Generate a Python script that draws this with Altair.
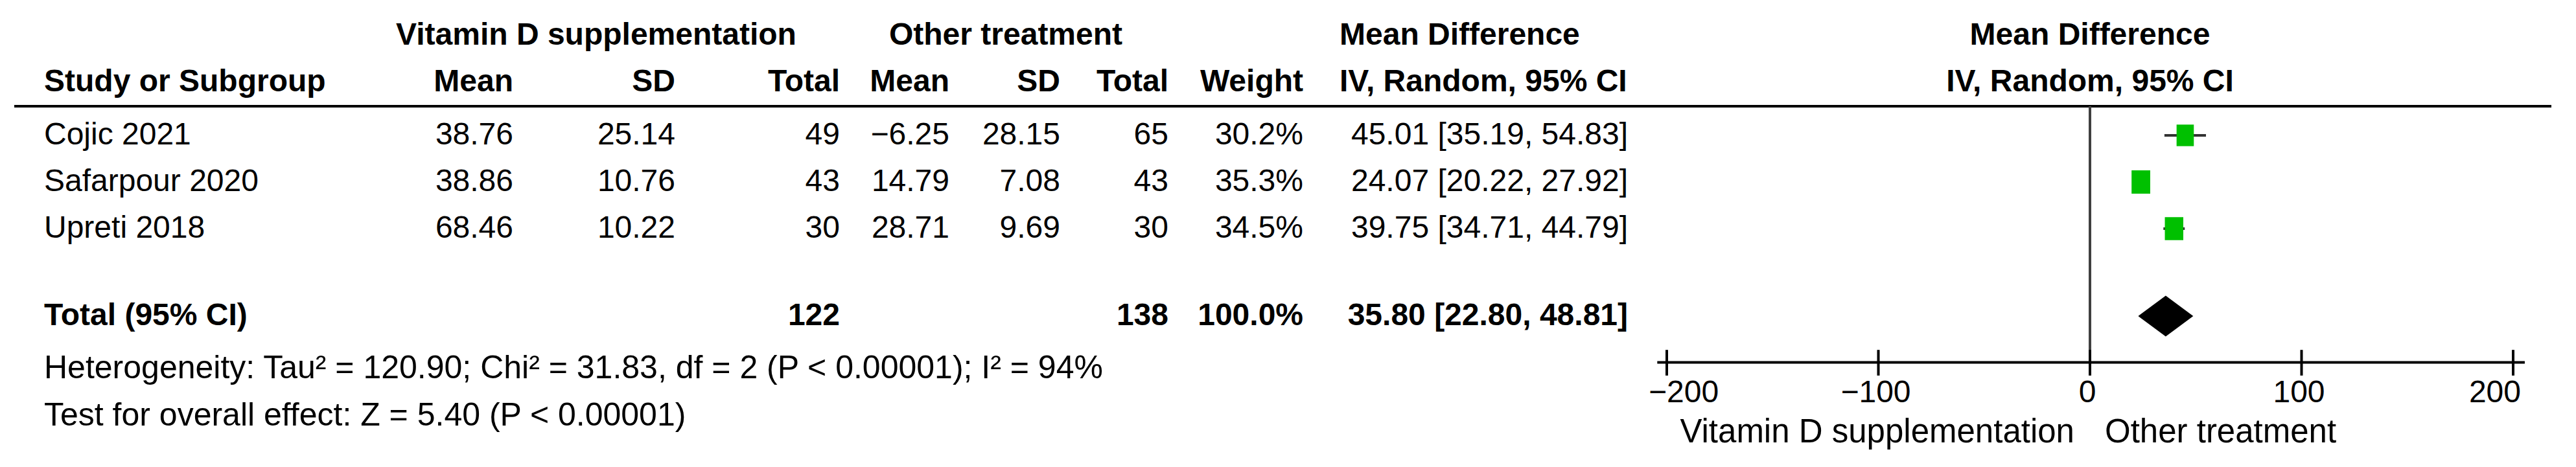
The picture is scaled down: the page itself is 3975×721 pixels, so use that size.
import altair as alt
import pandas as pd

# ---------------- data ----------------
studies = ["Cojic 2021", "Safarpour 2020", "Upreti 2018"]
vd_mean = ["38.76", "38.86", "68.46"]
vd_sd = ["25.14", "10.76", "10.22"]
vd_total = [49, 43, 30]
ot_mean = ["\u22126.25", "14.79", "28.71"]
ot_sd = ["28.15", "7.08", "9.69"]
ot_total = [65, 43, 30]
weight = [30.2, 35.3, 34.5]
md = [45.01, 24.07, 39.75]
ci_lo = [35.19, 20.22, 34.71]
ci_hi = [54.83, 27.92, 44.79]

total_label = "Total (95% CI)"
total_vd = 122
total_ot = 138
total_weight = 100.0
pooled_md = 35.80
pooled_lo = 22.80
pooled_hi = 48.81

heterogeneity = "Heterogeneity: Tau\u00b2 = 120.90; Chi\u00b2 = 31.83, df = 2 (P < 0.00001); I\u00b2 = 94%"
overall_effect = "Test for overall effect: Z = 5.40 (P < 0.00001)"

group_headers = ["Vitamin D supplementation", "Other treatment", "Mean Difference"]
col_headers = ["Study or Subgroup", "Mean", "SD", "Total", "Mean", "SD", "Total", "Weight",
               "IV, Random, 95% CI"]
plot_headers = ["Mean Difference", "IV, Random, 95% CI"]

tick_values = [-200, -100, 0, 100, 200]
tick_labels = ["\u2212200", "\u2212100", "0", "100", "200"]
favours = ["Vitamin D supplementation", "Other treatment"]

# ---------------- layout (styles / positions) ----------------
FONT = "Liberation Sans"
FS = 48
FS_FOOT = 50
FS_FAV = 51
GREEN = "#00c000"

ROW_H1, ROW_H2, ROW_LINE = -2.139, -1.139, -0.625
ROW_TOTAL, ROW_HET, ROW_TEST = 3.875, 5.0, 6.014
ROW_AXIS, ROW_TICK_TOP, ROW_TICK_BOT = 4.868, 4.6, 5.15
ROW_TICKLAB, ROW_FAV = 5.53, 6.375
DIAMOND_HALF = 0.4375

X_NAME = 60
X_VD_MEAN, X_VD_SD, X_VD_TOT = 784, 1034, 1288
X_OT_MEAN, X_OT_SD, X_OT_TOT = 1457, 1628, 1795
X_WEIGHT, X_CI_RIGHT, X_CI_LEFT = 2003, 2504, 2059
X_G1, X_G2 = 912, 1544
TABLE_LINE = (14, 3929)

yscale = alt.Scale(domain=[-3, 7], range=[-15, 705])
xscale = alt.Scale(domain=[-200, 200], range=[2564, 3870])
AXIS_EXTENT = [-204.5, 205.5]


def text_layer(df, field, xpos, align, bold=False, row="row", size=FS):
    return alt.Chart(df).mark_text(
        align=align, baseline="middle", font=FONT, fontSize=size,
        fontWeight="bold" if bold else "normal", color="black"
    ).encode(
        x=alt.value(xpos),
        y=alt.Y(f"{row}:Q", scale=yscale, axis=None),
        text=alt.Text(f"{field}:N"),
    )


# study table
rows = pd.DataFrame({
    "row": list(range(len(studies))),
    "study": studies,
    "vd_mean": vd_mean,
    "vd_sd": vd_sd,
    "vd_total": [str(v) for v in vd_total],
    "ot_mean": ot_mean,
    "ot_sd": ot_sd,
    "ot_total": [str(v) for v in ot_total],
    "weight": [f"{w:.1f}%" for w in weight],
    "ci": [f"{m:.2f} [{l:.2f}, {h:.2f}]" for m, l, h in zip(md, ci_lo, ci_hi)],
    "md": md, "lo": ci_lo, "hi": ci_hi,
    "sq": [w * 36.7 for w in weight],
})

total = pd.DataFrame({
    "row": [ROW_TOTAL],
    "label": [total_label],
    "vd_total": [str(total_vd)],
    "ot_total": [str(total_ot)],
    "weight": [f"{total_weight:.1f}%"],
    "ci": [f"{pooled_md:.2f} [{pooled_lo:.2f}, {pooled_hi:.2f}]"],
})

head1 = pd.DataFrame({"row": [ROW_H1], "g1": [group_headers[0]], "g2": [group_headers[1]],
                      "g3": [group_headers[2]]})
head2 = pd.DataFrame({"row": [ROW_H2], **{f"c{i}": [h] for i, h in enumerate(col_headers)}})
foot = pd.DataFrame({"row": [ROW_HET, ROW_TEST], "t": [heterogeneity, overall_effect]})

layers = []
# headers
layers += [
    text_layer(head1, "g1", X_G1, "center", True),
    text_layer(head1, "g2", X_G2, "center", True),
    text_layer(head1, "g3", X_CI_LEFT, "left", True),
    text_layer(head2, "c0", X_NAME, "left", True),
    text_layer(head2, "c1", X_VD_MEAN, "right", True),
    text_layer(head2, "c2", X_VD_SD, "right", True),
    text_layer(head2, "c3", X_VD_TOT, "right", True),
    text_layer(head2, "c4", X_OT_MEAN, "right", True),
    text_layer(head2, "c5", X_OT_SD, "right", True),
    text_layer(head2, "c6", X_OT_TOT, "right", True),
    text_layer(head2, "c7", X_WEIGHT, "right", True),
    text_layer(head2, "c8", X_CI_LEFT, "left", True),
]
# body
layers += [
    text_layer(rows, "study", X_NAME, "left"),
    text_layer(rows, "vd_mean", X_VD_MEAN, "right"),
    text_layer(rows, "vd_sd", X_VD_SD, "right"),
    text_layer(rows, "vd_total", X_VD_TOT, "right"),
    text_layer(rows, "ot_mean", X_OT_MEAN, "right"),
    text_layer(rows, "ot_sd", X_OT_SD, "right"),
    text_layer(rows, "ot_total", X_OT_TOT, "right"),
    text_layer(rows, "weight", X_WEIGHT, "right"),
    text_layer(rows, "ci", X_CI_RIGHT, "right"),
]
# total
layers += [
    text_layer(total, "label", X_NAME, "left", True),
    text_layer(total, "vd_total", X_VD_TOT, "right", True),
    text_layer(total, "ot_total", X_OT_TOT, "right", True),
    text_layer(total, "weight", X_WEIGHT, "right", True),
    text_layer(total, "ci", X_CI_RIGHT, "right", True),
]
# footnotes
layers.append(text_layer(foot, "t", X_NAME, "left", size=FS_FOOT))

# header rule across the table
hline = pd.DataFrame({"row": [ROW_LINE]})
layers.append(
    alt.Chart(hline).mark_rule(color="black", strokeWidth=4).encode(
        x=alt.value(TABLE_LINE[0]), x2=alt.value(TABLE_LINE[1]),
        y=alt.Y("row:Q", scale=yscale, axis=None))
)

# zero line
zero = pd.DataFrame({"x": [0], "r1": [ROW_LINE], "r2": [ROW_AXIS]})
layers.append(
    alt.Chart(zero).mark_rule(color="#404040", strokeWidth=4).encode(
        x=alt.X("x:Q", scale=xscale, axis=None),
        y=alt.Y("r1:Q", scale=yscale, axis=None), y2="r2:Q")
)

# axis line
axis_df = pd.DataFrame({"x": [AXIS_EXTENT[0]], "x2": [AXIS_EXTENT[1]], "row": [ROW_AXIS]})
layers.append(
    alt.Chart(axis_df).mark_rule(color="black", strokeWidth=4).encode(
        x=alt.X("x:Q", scale=xscale, axis=None), x2="x2:Q",
        y=alt.Y("row:Q", scale=yscale, axis=None))
)
ticks = pd.DataFrame({"x": tick_values, "lab": tick_labels,
                      "r1": [ROW_TICK_TOP] * 5, "r2": [ROW_TICK_BOT] * 5,
                      "rl": [ROW_TICKLAB] * 5})
layers.append(
    alt.Chart(ticks).mark_rule(color="black", strokeWidth=4).encode(
        x=alt.X("x:Q", scale=xscale, axis=None),
        y=alt.Y("r1:Q", scale=yscale, axis=None), y2="r2:Q")
)


def tick_text(sub, align, dx):
    return alt.Chart(sub).mark_text(align=align, baseline="middle", font=FONT, fontSize=FS,
                                    color="black", dx=dx).encode(
        x=alt.X("x:Q", scale=xscale, axis=None),
        y=alt.Y("rl:Q", scale=yscale, axis=None),
        text="lab:N")


layers.append(tick_text(ticks.iloc[[0]], "left", -28))
layers.append(tick_text(ticks.iloc[1:4], "center", -4))
layers.append(tick_text(ticks.iloc[[4]], "right", 12))

fav = pd.DataFrame({"x": [0, 0], "t": favours, "row": [ROW_FAV] * 2})
layers.append(
    alt.Chart(fav.iloc[[0]]).mark_text(align="right", baseline="middle", font=FONT,
                                       fontSize=FS_FAV, color="black", dx=-24).encode(
        x=alt.X("x:Q", scale=xscale, axis=None),
        y=alt.Y("row:Q", scale=yscale, axis=None), text="t:N")
)
layers.append(
    alt.Chart(fav.iloc[[1]]).mark_text(align="left", baseline="middle", font=FONT,
                                       fontSize=FS_FAV, color="black", dx=23).encode(
        x=alt.X("x:Q", scale=xscale, axis=None),
        y=alt.Y("row:Q", scale=yscale, axis=None), text="t:N")
)

# right panel headers
ph = pd.DataFrame({"x": [0, 0], "t": plot_headers, "row": [ROW_H1, ROW_H2]})
layers.append(
    alt.Chart(ph).mark_text(align="center", baseline="middle", font=FONT, fontSize=FS,
                            fontWeight="bold", color="black").encode(
        x=alt.X("x:Q", scale=xscale, axis=None),
        y=alt.Y("row:Q", scale=yscale, axis=None), text="t:N")
)

# CI lines
layers.append(
    alt.Chart(rows).mark_rule(color="#333333", strokeWidth=4).encode(
        x=alt.X("lo:Q", scale=xscale, axis=None), x2="hi:Q",
        y=alt.Y("row:Q", scale=yscale, axis=None))
)
# squares
layers.append(
    alt.Chart(rows).mark_point(shape="M-0.8,-1L0.8,-1L0.8,1L-0.8,1Z", filled=True,
                               color=GREEN, opacity=1, strokeWidth=0).encode(
        x=alt.X("md:Q", scale=xscale, axis=None),
        y=alt.Y("row:Q", scale=yscale, axis=None),
        size=alt.Size("sq:Q", scale=None, legend=None))
)
# diamond
dia = pd.DataFrame({
    "x": [pooled_lo, pooled_md, pooled_hi],
    "y1": [ROW_TOTAL, ROW_TOTAL - DIAMOND_HALF, ROW_TOTAL],
    "y2": [ROW_TOTAL, ROW_TOTAL + DIAMOND_HALF, ROW_TOTAL],
})
layers.append(
    alt.Chart(dia).mark_area(color="black", opacity=1, interpolate="linear").encode(
        x=alt.X("x:Q", scale=xscale, axis=None),
        y=alt.Y("y1:Q", scale=yscale, axis=None), y2="y2:Q")
)

chart = alt.layer(*layers).properties(
    width=3955, height=705,
    autosize=alt.AutoSizeParams(type="none"),
    padding=0,
    background="white",
).configure_view(stroke=None)

chart.save("out.html", embed_options={"renderer": "svg", "actions": False})
